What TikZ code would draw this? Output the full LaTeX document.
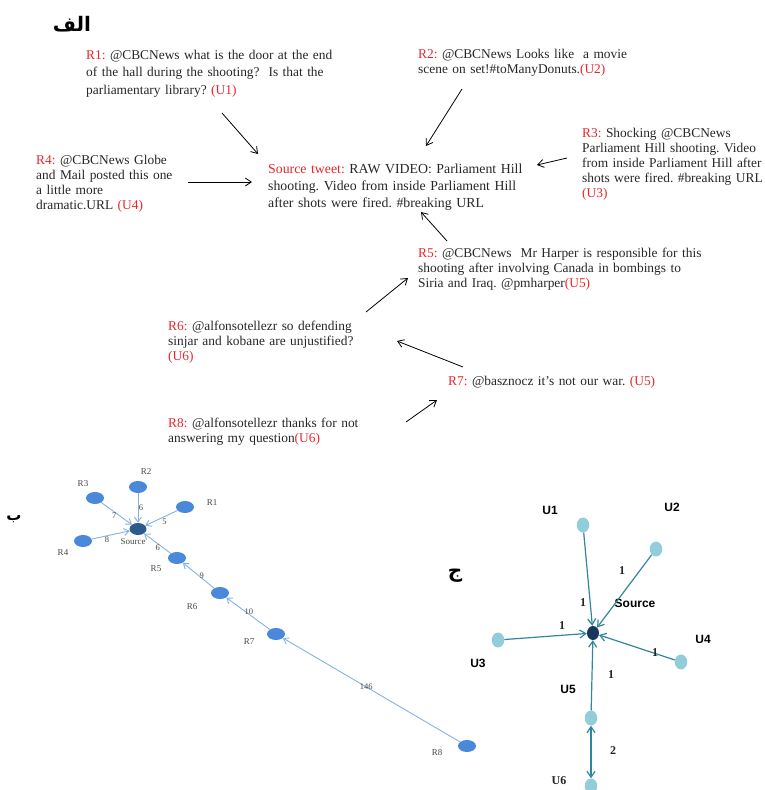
\documentclass[tikz,border=0pt]{standalone}
\usepackage{fontspec}
\setmainfont{Liberation Serif}
\newfontfamily\arabicfont[Script=Arabic]{DejaVu Sans}
\newfontfamily\arialfont{Liberation Sans}
\TeXXeTstate=1
\usetikzlibrary{arrows.meta,shapes.geometric}
\definecolor{tred}{HTML}{E8262B}
\definecolor{ttext}{HTML}{262626}
\definecolor{lnode}{HTML}{4A88D9}
\definecolor{lsrc}{HTML}{2C5A8C}
\definecolor{ledge}{HTML}{86B2E0}
\definecolor{rnode}{HTML}{92CDDC}
\definecolor{rsrc}{HTML}{17375E}
\definecolor{redge}{HTML}{31859C}
\newcommand{\rl}[1]{\textcolor{tred}{#1}}
\frenchspacing
\tikzset{
  tweet/.style={anchor=base west, inner sep=0pt, text width=360pt, align=left,
    font=\fontsize{13.4}{15.2}\selectfont, text=ttext},
  tweetwide/.style={tweet, font=\fontsize{13.4}{17.5}\selectfont},
  tweetsrc/.style={tweet, font=\fontsize{13.8}{17}\selectfont},
  tarrow/.style={-{Straight Barb[length=6pt,width=8pt]}, line width=0.8pt, black},
  lnodest/.style={ellipse, fill=lnode, minimum width=18pt, minimum height=12pt, inner sep=0pt},
  lsrcst/.style={ellipse, fill=lsrc, minimum width=17pt, minimum height=12pt, inner sep=0pt},
  ledgest/.style={draw=ledge, line width=0.9pt, -{Straight Barb[length=5pt,width=7pt]}},
  llab/.style={inner sep=0pt, font=\fontsize{9}{10}\selectfont, text=ttext!85},
  elab/.style={inner sep=0pt, font=\fontsize{8.5}{9}\selectfont, text=ttext!85},
  rnodest/.style={ellipse, fill=rnode, minimum width=12.5pt, minimum height=15pt, inner sep=0pt},
  rsrcst/.style={ellipse, fill=rsrc, minimum width=12pt, minimum height=14pt, inner sep=0pt},
  redgest/.style={draw=redge, line width=1.2pt, -{Straight Barb[length=6pt,width=8pt]}},
  rlab/.style={inner sep=0pt, font=\arialfont\bfseries\fontsize{12}{13}\selectfont, text=black},
  rnum/.style={inner sep=0pt, font=\bfseries\fontsize{12}{13}\selectfont, text=ttext},
  arlab/.style={inner sep=0pt, text=black}
}
\begin{document}
\begin{tikzpicture}[x=1pt,y=-1pt]
\useasboundingbox (0,0) rectangle (764,790);
% ---------- panel alef ----------
\node[arlab] (alef) at (72,24) {\arabicfont\bfseries\fontsize{20}{24}\selectfont\beginR الف\endR};
\node[tweetwide] (r1) at (86,59) {\rl{R1:} @CBCNews what is the door at the end\\ of the hall during the shooting?\ \ Is that the\\ parliamentary library? \rl{(U1)}};
\node[tweet] (r2) at (418,58) {\rl{R2:} @CBCNews Looks like\ \ a movie\\ scene on set!\#toManyDonuts.\rl{(U2)}};
\node[tweet] (r3) at (582,137) {\rl{R3:} Shocking @CBCNews\\ Parliament Hill shooting. Video\\ from inside Parliament Hill after\\ shots were fired. \#breaking URL\\ \rl{(U3)}};
\node[tweet] (r4) at (36,164) {\rl{R4:} @CBCNews Globe\\ and Mail posted this one\\ a little more\\ dramatic.URL \rl{(U4)}};
\node[tweetsrc] (src) at (268,173) {\rl{Source tweet:} RAW VIDEO: Parliament Hill\\ shooting. Video from inside Parliament Hill\\ after shots were fired. \#breaking URL};
\node[tweet] (r5) at (418,257) {\rl{R5:} @CBCNews\ \ Mr Harper is responsible for this\\ shooting after involving Canada in bombings to\\ Siria and Iraq. @pmharper\rl{(U5)}};
\node[tweet] (r6) at (168,330) {\rl{R6:} @alfonsotellezr so defending\\ sinjar and kobane are unjustified?\\ \rl{(U6)}};
\node[tweet] (r7) at (448,385) {\rl{R7:} @basznocz it's not our war. \rl{(U5)}};
\node[tweet] (r8) at (168,427) {\rl{R8:} @alfonsotellezr thanks for not\\ answering my question\rl{(U6)}};
\coordinate (a1s) at (222,113); \coordinate (a1e) at (258,154);
\coordinate (a4s) at (188,182); \coordinate (a4e) at (252,182);
\coordinate (a2s) at (462,89);  \coordinate (a2e) at (426,146);
\coordinate (a3s) at (567,158); \coordinate (a3e) at (537,165);
\coordinate (a5s) at (447,241); \coordinate (a5e) at (421,212);
\coordinate (a6s) at (366,312); \coordinate (a6e) at (408,278);
\coordinate (a7s) at (463,367); \coordinate (a7e) at (397,341);
\coordinate (a8s) at (406,422); \coordinate (a8e) at (437,400);
\draw[tarrow] (a1s) -- (a1e);
\draw[tarrow] (a4s) -- (a4e);
\draw[tarrow] (a2s) -- (a2e);
\draw[tarrow] (a3s) -- (a3e);
\draw[tarrow] (a5s) -- (a5e);
\draw[tarrow] (a6s) -- (a6e);
\draw[tarrow] (a7s) -- (a7e);
\draw[tarrow] (a8s) -- (a8e);
% ---------- panel be ----------
\node[arlab] (be) at (14,519) {\arabicfont\bfseries\fontsize{15}{18}\selectfont\beginR ب\endR};
\node[lsrcst] (ls) at (138,529) {};
\node[lnodest] (l1) at (185,507) {};
\node[lnodest] (l2) at (138,487) {};
\node[lnodest] (l3) at (95,498) {};
\node[lnodest] (l4) at (83,541) {};
\node[lnodest] (l5) at (177,558) {};
\node[lnodest] (l6) at (220,593) {};
\node[lnodest] (l7) at (276,634) {};
\node[lnodest] (l8) at (467,746) {};
\node[llab] (lsl) at (133,542) {Source};
\node[llab] (l1l) at (212,503) {R1};
\node[llab] (l2l) at (146,472) {R2};
\node[llab] (l3l) at (83,484) {R3};
\node[llab] (l4l) at (63,553) {R4};
\node[llab] (l5l) at (156,569) {R5};
\node[llab] (l6l) at (192,607) {R6};
\node[llab] (l7l) at (249,642) {R7};
\node[llab] (l8l) at (437,753) {R8};
\draw[ledgest] (l1) -- node[elab, pos=0.4, yshift=-5pt] {5} (ls);
\draw[ledgest] (l2) -- node[elab, pos=0.5, xshift=3pt] {6} (ls);
\draw[ledgest] (l3) -- node[elab, pos=0.42, yshift=-4pt] {7} (ls);
\draw[ledgest] (l4) -- node[elab, pos=0.4, yshift=-4pt] {8} (ls);
\draw[ledgest] (l5) -- node[elab, pos=0.49, yshift=-4pt] {6} (ls);
\draw[ledgest] (l6) -- node[elab, pos=0.4, yshift=2pt] {9} (l5);
\draw[ledgest] (l7) -- node[elab, pos=0.48, yshift=2pt] {10} (l6);
\draw[ledgest] (l8) -- node[elab, pos=0.53] {146} (l7);
% ---------- panel jim ----------
\node[arlab] (jim) at (455,576) {\arabicfont\bfseries\fontsize{20}{24}\selectfont\beginR ج\endR};
\node[rsrcst] (rs) at (593,633) {};
\node[rnodest] (u1) at (583,525) {};
\node[rnodest] (u2) at (656,549) {};
\node[rnodest] (u3) at (498,640) {};
\node[rnodest] (u4) at (681,662) {};
\node[rnodest] (u5) at (591,718) {};
\node[rnodest] (u6) at (591,786) {};
\node[rlab] (rsl) at (635,603) {Source};
\node[rlab] (u1l) at (550,510) {U1};
\node[rlab] (u2l) at (672,507) {U2};
\node[rlab] (u3l) at (478,663) {U3};
\node[rlab] (u4l) at (703,639) {U4};
\node[rlab] (u5l) at (568,689) {U5};
\node[rnum] (u6l) at (559,781) {U6};
\draw[redgest] (u1) -- (rs);
\draw[redgest] (u2) -- (rs);
\draw[redgest] (u3) -- (rs);
\draw[redgest] (u4) -- (rs);
\draw[redgest] (u5) -- (rs);
\draw[redgest, {Straight Barb[length=6pt,width=8pt]}-{Straight Barb[length=6pt,width=8pt]}] (u5) -- (u6);
\node[rnum] (n1) at (583,603) {1};
\node[rnum] (n2) at (622,571) {1};
\node[rnum] (n3) at (562,626) {1};
\node[rnum] (n4) at (655,653) {1};
\node[rnum] (n5) at (611,675) {1};
\node[rnum] (n6) at (613,751) {2};
\end{tikzpicture}
\end{document}
